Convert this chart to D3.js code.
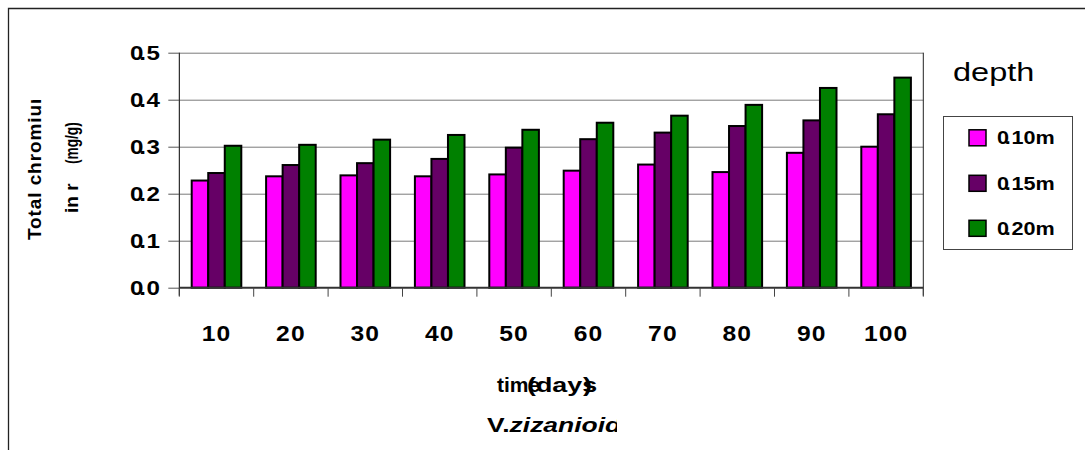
<!DOCTYPE html>
<html>
<head>
<meta charset="utf-8">
<script src="https://cdn.jsdelivr.net/npm/d3@7/dist/d3.min.js"></script>
<style>
  html, body { margin: 0; padding: 0; background: #fff; }
  svg { display: block; }
  text { font-family: "Liberation Sans", Arial, sans-serif; fill: #000; }
</style>
</head>
<body>
<svg id="chart" width="1085" height="450"></svg>
<script>
// Sampling days (x categories)
const days = ["10", "20", "30", "40", "50", "60", "70", "80", "90", "100"];

// Total chromium in roots (mg/g) at each planting depth
const depth010 = [0.228, 0.237, 0.239, 0.237, 0.241, 0.249, 0.262, 0.246, 0.287, 0.300];
const depth015 = [0.244, 0.261, 0.265, 0.274, 0.298, 0.316, 0.330, 0.344, 0.356, 0.369];
const depth020 = [0.302, 0.304, 0.315, 0.325, 0.336, 0.351, 0.366, 0.389, 0.425, 0.447];

const seriesNames = ["0.10m", "0.15m", "0.20m"];
const seriesColors = ["#ff00ff", "#660066", "#008000"];

const yTicks = [0, 0.1, 0.2, 0.3, 0.4, 0.5];
const yTickLabels = ["0.0", "0.1", "0.2", "0.3", "0.4", "0.5"];

const seriesValues = [depth010, depth015, depth020];

const svg = d3.select("#chart");

// Plot frame
const plot = { left: 179.3, right: 923.3, top: 52.7, bottom: 287.7 };

const x0 = d3.scaleBand().domain(days).range([plot.left, plot.right])
  .paddingInner(1 / 3).paddingOuter(1 / 6);
const x1 = d3.scaleBand().domain(seriesNames).range([0, x0.bandwidth()]);
const xEdge = d3.scaleLinear().domain([0, days.length]).range([plot.left, plot.right]);
const y = d3.scaleLinear().domain([0, 0.5]).range([plot.bottom, plot.top]);

// Text helper: places a label, optionally rotated and stretched
function label(parent, x, y, str, o) {
  o = o || {};
  const t = parent.append("text")
    .attr("transform", `translate(${x},${y})` + (o.rotate ? ` rotate(${o.rotate})` : "") + ` scale(${o.sx || 1},${o.sy || 1})`)
    .attr("font-size", o.size || 16)
    .attr("font-weight", o.weight || "bold")
    .attr("text-anchor", o.anchor || "start");
  if (o.style) t.attr("font-style", o.style);
  if (o.spacing) t.attr("letter-spacing", o.spacing);
  if (o.parts) {
    o.parts.forEach(p => {
      const s = t.append("tspan").text(p[0]);
      if (p[1]) s.attr("dx", p[1]);
      if (p[2]) s.attr("font-style", p[2]);
      if (p[3]) s.attr("letter-spacing", p[3]);
    });
  } else {
    t.text(str);
  }
  return t;
}

// Outer chart border
svg.append("path")
  .attr("d", "M8.5,450 V8.5 H1085")
  .attr("fill", "none").attr("stroke", "#222").attr("stroke-width", 1.3);

// Horizontal gridlines
svg.append("g")
  .attr("transform", `translate(${plot.left},0)`)
  .call(d3.axisLeft(y).tickValues(yTicks.slice(1)).tickSize(-(plot.right - plot.left)).tickFormat(""))
  .call(g => g.select(".domain").remove())
  .call(g => g.selectAll("line").attr("stroke", "#7a7a7a").attr("stroke-width", 1));

// Y axis with outward ticks
svg.append("g")
  .attr("transform", `translate(${plot.left},0)`)
  .call(d3.axisLeft(y).tickValues(yTicks).tickSize(11).tickSizeOuter(0).tickFormat(""))
  .call(g => g.select(".domain").attr("stroke", "#000").attr("d", `M0,${plot.top}V${plot.bottom + 8}`))
  .call(g => g.selectAll("line").attr("stroke", "#555"));

// Right frame edge
svg.append("line")
  .attr("x1", plot.right).attr("x2", plot.right)
  .attr("y1", plot.top).attr("y2", plot.bottom + 8)
  .attr("stroke", "#222").attr("stroke-width", 1);

// Y tick labels (tight decimal point)
yTicks.forEach((v, i) => {
  const s = yTickLabels[i];
  label(svg, 160, y(v) + 7.5, null, {
    size: 21, anchor: "end", sx: 1.15,
    parts: [[s[0]], [s[1], -3.5], [s.slice(2), 0.5]]
  });
});

// Bars
const groups = svg.append("g").selectAll("g")
  .data(days)
  .join("g")
  .attr("transform", d => `translate(${x0(d)},0)`);

groups.selectAll("rect")
  .data((d, i) => seriesNames.map((s, k) => ({ s, k, v: seriesValues[k][i] })))
  .join("rect")
  .attr("x", d => x1(d.s))
  .attr("y", d => y(d.v))
  .attr("width", x1.bandwidth())
  .attr("height", d => y(0) - y(d.v))
  .attr("fill", d => seriesColors[d.k])
  .attr("stroke", "#000")
  .attr("stroke-width", 2);

// X axis line and category boundary ticks
svg.append("line")
  .attr("x1", plot.left).attr("x2", plot.right)
  .attr("y1", plot.bottom).attr("y2", plot.bottom)
  .attr("stroke", "#333").attr("stroke-width", 2);
svg.append("g").selectAll("line")
  .data(d3.range(days.length + 1))
  .join("line")
  .attr("x1", d => xEdge(d)).attr("x2", d => xEdge(d))
  .attr("y1", plot.bottom).attr("y2", plot.bottom + 9)
  .attr("stroke", "#444").attr("stroke-width", 1);

// X tick labels
days.forEach(d => {
  label(svg, x0(d) + x0.bandwidth() / 2, 341, d, { size: 22, anchor: "middle", sx: 1.12, spacing: 1 });
});

// X axis titles
label(svg, 497, 392, "time", { size: 21 });
label(svg, 527, 392, null, {
  size: 21, sx: 1.28,
  parts: [["(days"], [")", -11]]
});
const clipX = svg.append("clipPath").attr("id", "clipSpecies");
clipX.append("rect").attr("x", 400).attr("y", 395).attr("width", 217).attr("height", 55);
const speciesG = svg.append("g").attr("clip-path", "url(#clipSpecies)");
label(speciesG, 487, 432, null, {
  size: 21, sx: 1.26,
  parts: [["V."], ["zizanioides", 0, "italic"]]
});

// Y axis title (two rotated lines, the first clipped at its top)
const clipY = svg.append("clipPath").attr("id", "clipYTitle");
clipY.append("rect").attr("x", 10).attr("y", 100).attr("width", 100).attr("height", 200);
const yTitleG = svg.append("g").attr("clip-path", "url(#clipYTitle)");
label(yTitleG, 41, 240, "Total chromium", { size: 19, rotate: -90, spacing: 0.9 });
label(svg, 78, 213, "in  r", { size: 19, rotate: -90 });
label(svg, 78, 164, "(mg/g)", { size: 19, rotate: -90, sx: 0.72 });

// Legend
label(svg, 953, 81, "depth", { size: 25, weight: "normal", sx: 1.3 });
svg.append("rect")
  .attr("x", 943.5).attr("y", 116.5).attr("width", 129).attr("height", 133)
  .attr("fill", "#fff").attr("stroke", "#444").attr("stroke-width", 1);
const rowY = [137.8, 183.3, 228.3];
seriesNames.forEach((s, k) => {
  svg.append("rect")
    .attr("x", 969).attr("y", rowY[k] - 8)
    .attr("width", 17).attr("height", 16)
    .attr("fill", seriesColors[k]).attr("stroke", "#000").attr("stroke-width", 1.5);
  label(svg, 997, rowY[k] + 6.5, null, {
    size: 18, sx: 1.2,
    parts: [[s[0]], [s[1], -3.5], [s.slice(2), 0.5]]
  });
});
</script>
</body>
</html>
